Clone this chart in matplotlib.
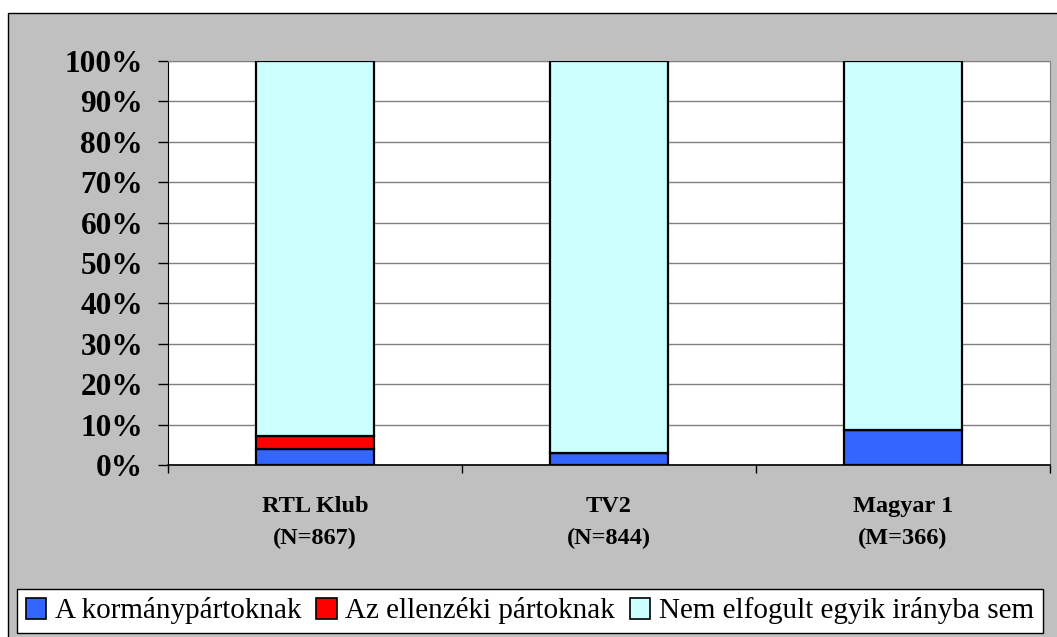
import matplotlib
matplotlib.use("Agg")
import matplotlib.pyplot as plt
from matplotlib.patches import Rectangle, Patch
import numpy as np

categories = ["RTL Klub\n(N=867)", "TV2\n(N=844)", "Magyar 1\n(M=366)"]
series_names = ["A kormánypártoknak", "Az ellenzéki pártoknak", "Nem elfogult egyik irányba sem"]
gov = [3.9, 2.9, 8.7]
opp = [3.4, 0.0, 0.0]
neutral = [100 - g - o for g, o in zip(gov, opp)]
colors = ["#3366FF", "#FF0000", "#CCFFFF"]
yticks = [0, 10, 20, 30, 40, 50, 60, 70, 80, 90, 100]

W, H = 1057, 637
fig = plt.figure(figsize=(W / 100, H / 100), dpi=100)
fig.patch.set_facecolor("white")
# outer grey chart area
bg = Rectangle((8 / W, -0.1), 1.2, 0.1 + (H - 13) / H, transform=fig.transFigure,
               facecolor="#C0C0C0", edgecolor="black", linewidth=1.0, zorder=-10)
fig.add_artist(bg)

ax = fig.add_axes([168 / W, (H - 465) / H, (1050 - 168) / W, 404 / H])
ax.set_zorder(1)
ax.set_facecolor("white")
x = np.arange(len(categories))
bw = 0.40
series = [gov, opp, neutral]
bottom = np.zeros(len(categories))
for vals, c in zip(series, colors):
    ax.bar(x, vals, bw, bottom=bottom, color=c, edgecolor="black", linewidth=1.6, zorder=3)
    bottom += np.array(vals)

ax.set_xlim(-0.5, len(categories) - 0.5)
ax.set_ylim(0, 100)
ax.set_yticks(yticks)
ax.set_yticklabels([f"{v}%" for v in yticks], fontfamily="Liberation Serif",
                   fontweight="bold", fontsize=22.5)
ax.yaxis.grid(True, color="#808080", linewidth=1.0, zorder=0)
ax.set_axisbelow(True)
ax.tick_params(axis="y", direction="out", length=7, width=1, pad=11)

ax.set_xticks(x)
ax.set_xticklabels(categories, fontfamily="Liberation Serif", fontweight="bold", fontsize=17.5)
for lbl in ax.get_xticklabels():
    lbl.set_linespacing(1.7)
ax.set_xticks(np.arange(len(categories) + 1) - 0.5, minor=True)
ax.tick_params(axis="x", which="major", length=0, pad=22)
ax.tick_params(axis="x", which="minor", direction="out", length=6, width=1)

ax.spines["right"].set_color("#808080")
ax.spines["top"].set_color("#808080")
ax.spines["left"].set_color("black")
ax.spines["bottom"].set_color("black")
ax.spines["bottom"].set_linewidth(1.2)

handles = [Patch(facecolor=c, edgecolor="black", linewidth=1.2) for c in colors]
leg = fig.legend(handles, series_names, loc="center", bbox_to_anchor=((15 + 1045) / 2 / W, (H - 611) / H),
                 ncol=3, frameon=True, fancybox=False, edgecolor="black", facecolor="white",
                 prop={"family": "Liberation Serif", "size": 21}, handlelength=0.7, handleheight=0.7,
                 handletextpad=0.3, columnspacing=0.5, borderpad=0.3, framealpha=1)
leg.get_frame().set_linewidth(1.0)
leg.set_zorder(5)

fig.savefig("out.png", dpi=100)
